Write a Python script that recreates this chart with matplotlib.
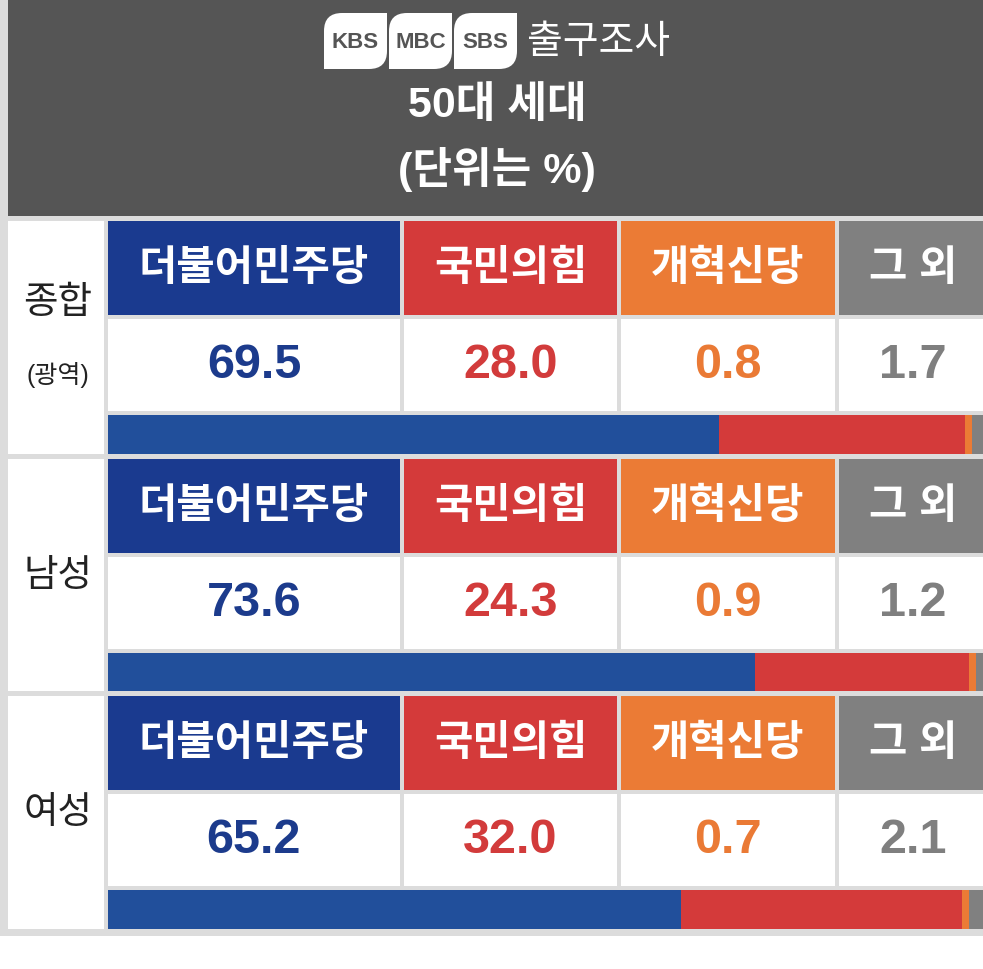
import matplotlib
matplotlib.use("Agg")
import matplotlib.pyplot as plt
from matplotlib.patches import Rectangle, PathPatch
from matplotlib.path import Path

plt.rcParams['font.family'] = ['Liberation Sans', 'Noto Sans CJK KR', 'DejaVu Sans']

# ---------------- data ----------------
title_lines = ['출구조사', '50대 세대', '(단위는 %)']
logos = ['KBS', 'MBC', 'SBS']
groups = ['종합', '남성', '여성']
group_subs = ['(광역)', '', '']
parties = ['더불어민주당', '국민의힘', '개혁신당', '그 외']
total_vals = [69.5, 28.0, 0.8, 1.7]
male_vals = [73.6, 24.3, 0.9, 1.2]
female_vals = [65.2, 32.0, 0.7, 2.1]
group_vals = [total_vals, male_vals, female_vals]

# ---------------- styles ----------------
W, H = 983, 970
DARK = '#555555'
FRAME = '#dcdcdc'
head_colors = ['#1a3a8f', '#d43a3a', '#eb7b35', '#808080']
bar_colors = ['#214f9b', '#d43a3a', '#eb7b35', '#808080']
val_colors = ['#1c3b8c', '#d23b3b', '#ea7a35', '#7f7f7f']

fig = plt.figure(figsize=(W / 100, H / 100), dpi=100)
fig.patch.set_facecolor('white')
ax = fig.add_axes([0, 0, 1, 1])
ax.set_xlim(0, W)
ax.set_ylim(H, 0)
ax.axis('off')

def rect(x0, y0, x1, y1, color, z=1):
    ax.add_patch(Rectangle((x0, y0), x1 - x0, y1 - y0, facecolor=color,
                           edgecolor='none', zorder=z))

# frame + header
rect(0, 0, W, 937, FRAME, 0)
rect(8, 0, W, 217, DARK, 1)

# logos
def leaf(x0, y0, w, h, r):
    verts = [(x0 + r, y0), (x0 + w, y0), (x0 + w, y0 + h - r),
             (x0 + w, y0 + h), (x0 + w - r, y0 + h),
             (x0, y0 + h), (x0, y0 + r), (x0, y0), (x0 + r, y0), (x0 + r, y0)]
    codes = [Path.MOVETO, Path.LINETO, Path.LINETO,
             Path.CURVE3, Path.CURVE3,
             Path.LINETO, Path.LINETO, Path.CURVE3, Path.CURVE3, Path.CLOSEPOLY]
    return PathPatch(Path(verts, codes), facecolor='white', edgecolor='none', zorder=3)

logo_x = [324, 389, 454]
for lx, name in zip(logo_x, logos):
    ax.add_patch(leaf(lx, 14, 63, 56, 18))
    ax.text(lx + 31.5, 43, name, color=DARK, fontsize=16, fontweight='bold',
            ha='center', va='center', zorder=4)

ax.text(527, 43, title_lines[0], color='white', fontsize=28, ha='left',
        va='center', zorder=4)
ax.text(497, 106, title_lines[1], color='white', fontsize=31, ha='center',
        va='center', zorder=4, fontweight='bold')
ax.text(497, 170, title_lines[2], color='white', fontsize=31, ha='center',
        va='center', zorder=4, fontweight='bold')

# table
col_x0 = [108, 404, 621, 839]
col_x1 = [400, 617, 835, W]
group_tops = [222, 460, 697]
group_bots = [455, 692, 930]

for gi, (gtop, gbot) in enumerate(zip(group_tops, group_bots)):
    rect(8, gtop, 104, gbot, 'white', 1)
    h_top, h_bot = gtop, gtop + 94
    v_top, v_bot = gtop + 98, gtop + 190
    b_top, b_bot = gtop + 194, gbot
    vals = group_vals[gi]
    for ci in range(4):
        rect(col_x0[ci], h_top, col_x1[ci], h_bot, head_colors[ci], 2)
        rect(col_x0[ci], v_top, col_x1[ci], v_bot, 'white', 2)
        ax.text((col_x0[ci] + col_x1[ci]) / 2 + (2 if ci == 3 else 0),
                (h_top + h_bot) / 2, parties[ci], color='white', fontsize=30,
                ha='center', va='center', zorder=4, fontweight='bold')
        ax.text((col_x0[ci] + col_x1[ci]) / 2 + (2 if ci == 3 else 0),
                (v_top + v_bot) / 2, f'{vals[ci]:.1f}', color=val_colors[ci],
                fontsize=35, ha='center', va='center', zorder=4,
                fontweight='bold')
    # group label
    if group_subs[gi]:
        ax.text(58, (gtop + gbot) / 2 - 35, groups[gi], color='#222222',
                fontsize=27, ha='center', va='center', zorder=4)
        ax.text(58, (gtop + gbot) / 2 + 37, group_subs[gi], color='#222222',
                fontsize=18, ha='center', va='center', zorder=4)
    else:
        ax.text(58, (gtop + gbot) / 2, groups[gi], color='#222222',
                fontsize=27, ha='center', va='center', zorder=4)

    # stacked bar in its own axes (0-100 %)
    bax = fig.add_axes([108 / W, 1 - b_bot / H, 879 / W, (b_bot - b_top) / H])
    bax.set_xlim(0, 100)
    bax.set_ylim(-0.5, 0.5)
    bax.axis('off')
    left = 0
    for ci, v in enumerate(vals):
        bax.barh(0, v, left=left, height=1.0, color=bar_colors[ci], linewidth=0)
        left += v

fig.savefig('out.png', dpi=100, facecolor='white')
